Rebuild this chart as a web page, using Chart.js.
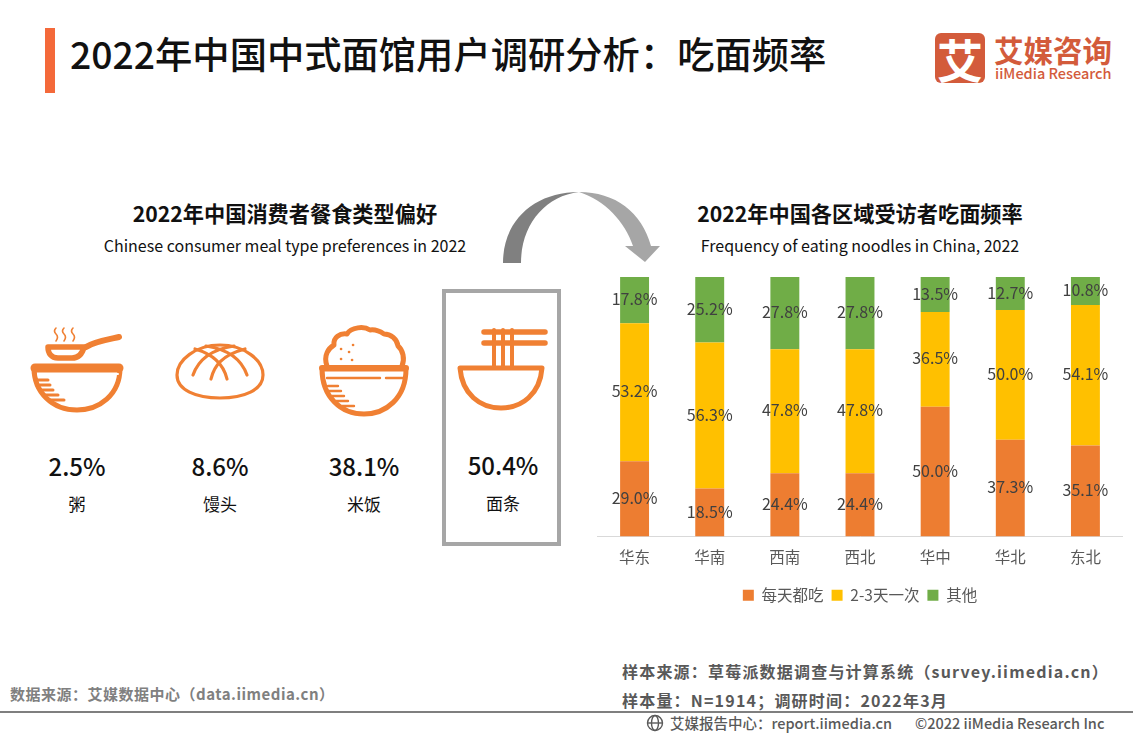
<!DOCTYPE html>
<html lang="zh-CN">
<head>
<meta charset="utf-8">
<title>2022年中国中式面馆用户调研分析：吃面频率</title>
<script src="https://cdn.jsdelivr.net/npm/chart.js@4/dist/chart.umd.min.js"></script>
<style>
    html, body { margin: 0; padding: 0; background: #fff; }
    body { width: 1133px; height: 737px; position: relative; overflow: hidden; font-family: "Noto Sans CJK SC", "Noto Sans", sans-serif; }
    .t { position: absolute; white-space: nowrap; line-height: 1; }
    .c { transform: translateX(-50%); }
    #art { position: absolute; left: 0; top: 0; }
    #chartBox { position: absolute; left: 597px; top: 267px; width: 526px; height: 352px; }
    .pct { font-size: 24px; font-weight: 500; color: #111; }
    .food { font-size: 17px; color: #111; }
    .head { font-size: 21.2px; font-weight: 700; color: #111; }
    .sub { font-size: 16px; color: #111; }
    .src { font-size: 16px; font-weight: 700; color: #595959; letter-spacing: 1.2px; }
</style>
</head>
<body>
<svg id="art" width="1133" height="737" viewBox="0 0 1133 737">
    <rect x="45" y="28" width="10" height="65" fill="#F4693A"/>
    <!-- logo -->
    <rect x="935" y="33" width="50" height="50" rx="6" fill="#D35B3B"/>
    <!-- arrow -->
    <path d="M503 263 C503 220 535 192 579 192 C545 196 521 225 521 263 Z" fill="#808080"/>
    <path d="M579 192 C615 192 642 212 651 246 H660 L645 262 L625 246 H633 C625 222 605 200 579 192 Z" fill="#A6A6A6"/>
    <!-- highlighted box -->
    <rect x="444" y="291" width="115" height="253" fill="none" stroke="#A6A6A6" stroke-width="4"/>

    <!-- congee -->
    <g fill="none" stroke="#F08033" stroke-linecap="round">
        <path d="M56 328 q-3 3 0 6 q3 3 0 7 M64 328 q-3 3 0 6 q3 3 0 7 M73 328 q-3 3 0 6 q3 3 0 7" stroke-width="1.6"/>
        <path d="M86 347 C93 342 105 340 119 337" stroke-width="6"/>
        <path d="M48 347 H84 C82 355 78 358 72 358 H58 C51 358 48 353 48 347 Z" stroke-width="5.5" stroke-linejoin="round"/>
        <path d="M34 368 H120 C120 395 99 410 77 410 C52 410 34 392 34 368 Z" stroke-width="5" stroke-linejoin="round"/>
        <path d="M35 368 H119" stroke-width="9"/>
        <path d="M38 374 H96 M102 374 H118" stroke="#fff" stroke-width="2"/>
        <path d="M36 380 H48 M38 385 H50 M41 390 H53 M45 395 H58 M50 400 H64" stroke-width="3"/>
    </g>
    <!-- bun -->
    <g fill="none" stroke="#F08033" stroke-width="3.2" stroke-linecap="round">
        <path d="M177 375 C177 360 196 345 220 345 C244 345 263 360 263 375 C263 390 244 398 220 398 C196 398 177 390 177 375 Z"/>
        <path d="M193 375 C199 358 214 349 234 346 M247 375 C241 358 226 349 206 346"/>
        <path d="M211 379 C214 366 222 355 245 349 M227 379 C224 366 216 355 195 349"/>
    </g>
    <!-- rice -->
    <g fill="none" stroke="#F08033" stroke-linecap="round" stroke-linejoin="round">
        <path d="M327 366 C323 355 329 348 334 345 C333 337 340 333 347 334 C351 327 364 326 370 330 C376 329 381 332 384 334 C391 334 397 339 398 346 C403 350 405 359 402 366" stroke-width="5"/>
        <path d="M322 369 H406 C406 398 386 414 364 414 C341 414 322 397 322 369 Z" stroke-width="5"/>
        <path d="M322 368 H406" stroke-width="6"/>
        <path d="M327 378 H380 M386 378 H403" stroke-width="2.4"/>
        <path d="M328 386 H338 M329 391 H341 M332 396 H344 M336 401 H348 M342 406 H354" stroke-width="2.4"/>
        <path d="M341 349 h.1 M353 345 h.1 M349 352 h.1 M341 359 h.1 M352 360 h.1" stroke-width="2.6"/>
    </g>
    <!-- noodles -->
    <g fill="none" stroke="#F08033" stroke-linecap="round" stroke-linejoin="round">
        <path d="M484 332 H545 M484 343 H545" stroke-width="5.5"/>
        <path d="M494 330 V366 M503 330 V366 M512 330 V366" stroke-width="4"/>
        <path d="M460 368 H542 C540 394 522 408 501 408 C480 408 462 394 460 368 Z" stroke-width="5"/>
    </g>
    <!-- footer rule and globe -->
    <rect x="0" y="711" width="1133" height="2" fill="#7F7F7F"/>
    <g fill="none" stroke="#595959" stroke-width="1.4">
        <circle cx="655" cy="723" r="7.5"/>
        <ellipse cx="655" cy="723" rx="3.5" ry="7.5"/>
        <path d="M648 723 H662"/>
    </g>
</svg>

<div class="t" style="left:70px;top:35px;font-size:37.3px;font-weight:500;color:#111;">2022年中国中式面馆用户调研分析：吃面频率</div>

<div class="t" style="left:937px;top:35px;width:46px;text-align:center;font-size:46px;font-weight:700;color:#fff;">艾</div>
<div class="t" style="left:994px;top:35px;font-size:29.5px;font-weight:700;color:#D35B3B;">艾媒咨询</div>
<div class="t" style="left:995px;top:66px;font-size:14.5px;font-weight:500;color:#D35B3B;">iiMedia Research</div>

<div class="t c head" style="left:285px;top:202px;">2022年中国消费者餐食类型偏好</div>
<div class="t c sub" style="left:285px;top:237px;">Chinese consumer meal type preferences in 2022</div>
<div class="t c head" style="left:860px;top:202px;">2022年中国各区域受访者吃面频率</div>
<div class="t c sub" style="left:860px;top:237px;">Frequency of eating noodles in China, 2022</div>

<div id="foods"></div>

<div id="chartBox"><canvas id="freqChart"></canvas></div>

<div class="t src" style="left:10px;top:686px;font-size:15px;letter-spacing:0.5px;color:#808080;">数据来源：艾媒数据中心（data.iimedia.cn）</div>
<div class="t src" style="left:622px;top:663px;">样本来源：草莓派数据调查与计算系统（survey.iimedia.cn）</div>
<div class="t src" style="left:622px;top:692px;">样本量：N=1914；调研时间：2022年3月</div>
<div class="t" style="left:670px;top:716px;font-size:14.5px;font-weight:500;color:#595959;">艾媒报告中心：report.iimedia.cn</div>
<div class="t" style="left:915px;top:716px;font-size:14.5px;font-weight:500;color:#595959;">©2022 iiMedia Research Inc</div>

<script>
// meal preference figures (left panel)
const foodNames = ['粥', '馒头', '米饭', '面条'];
const foodShares = ['2.5%', '8.6%', '38.1%', '50.4%'];

// eating frequency by region (right panel)
const regions = ['华东', '华南', '西南', '西北', '华中', '华北', '东北'];
const seriesNames = ['每天都吃', '2-3天一次', '其他'];
const daily = [29.0, 18.5, 24.4, 24.4, 50.0, 37.3, 35.1];
const everyFewDays = [53.2, 56.3, 47.8, 47.8, 36.5, 50.0, 54.1];
const other = [17.8, 25.2, 27.8, 27.8, 13.5, 12.7, 10.8];

const seriesColors = ['#ED7D31', '#FFC000', '#70AD47'];
const foodCenters = [77, 220, 364, 503];

// Left panel captions
const foodsEl = document.getElementById('foods');
foodNames.forEach((name, i) => {
    const boxed = i === 3 ? 1 : 0;
    const pct = document.createElement('div');
    pct.className = 't c pct';
    pct.style.left = foodCenters[i] + 'px';
    pct.style.top = (454 - boxed) + 'px';
    pct.textContent = foodShares[i];
    foodsEl.appendChild(pct);

    const label = document.createElement('div');
    label.className = 't c food';
    label.style.left = foodCenters[i] + 'px';
    label.style.top = (495 - boxed) + 'px';
    label.textContent = name;
    foodsEl.appendChild(label);
});

// Value labels drawn in the middle of each bar segment
const segmentLabels = {
    id: 'segmentLabels',
    afterDatasetsDraw(chart) {
        const { ctx } = chart;
        ctx.save();
        ctx.font = '16px "Noto Sans CJK SC"';
        ctx.fillStyle = '#404040';
        ctx.textAlign = 'center';
        ctx.textBaseline = 'middle';
        chart.data.datasets.forEach((ds, i) => {
            chart.getDatasetMeta(i).data.forEach((bar, j) => {
                const p = bar.getCenterPoint();
                ctx.fillText(ds.data[j].toFixed(1) + '%', p.x, p.y - 1);
            });
        });
        ctx.restore();
    }
};

new Chart(document.getElementById('freqChart'), {
    type: 'bar',
    data: {
        labels: regions,
        datasets: [daily, everyFewDays, other].map((values, i) => ({
            label: seriesNames[i],
            data: values,
            backgroundColor: seriesColors[i],
            barPercentage: 0.385,
            categoryPercentage: 1
        }))
    },
    options: {
        responsive: true,
        maintainAspectRatio: false,
        animation: false,
        layout: { padding: { top: 10, bottom: 6 } },
        plugins: {
            tooltip: { enabled: false },
            legend: {
                position: 'bottom',
                labels: {
                    boxWidth: 11,
                    boxHeight: 11,
                    padding: 8,
                    color: '#595959',
                    font: { family: '"Noto Sans CJK SC"', size: 15.5 }
                }
            }
        },
        scales: {
            x: {
                stacked: true,
                grid: { display: false },
                border: { color: '#D9D9D9' },
                ticks: { color: '#595959', font: { family: '"Noto Sans CJK SC"', size: 15.5 }, padding: 3 },
                afterFit(scale) { scale.height = 43; }
            },
            y: { stacked: true, display: false, min: 0, max: 100 }
        }
    },
    plugins: [segmentLabels]
});
</script>
</body>
</html>
